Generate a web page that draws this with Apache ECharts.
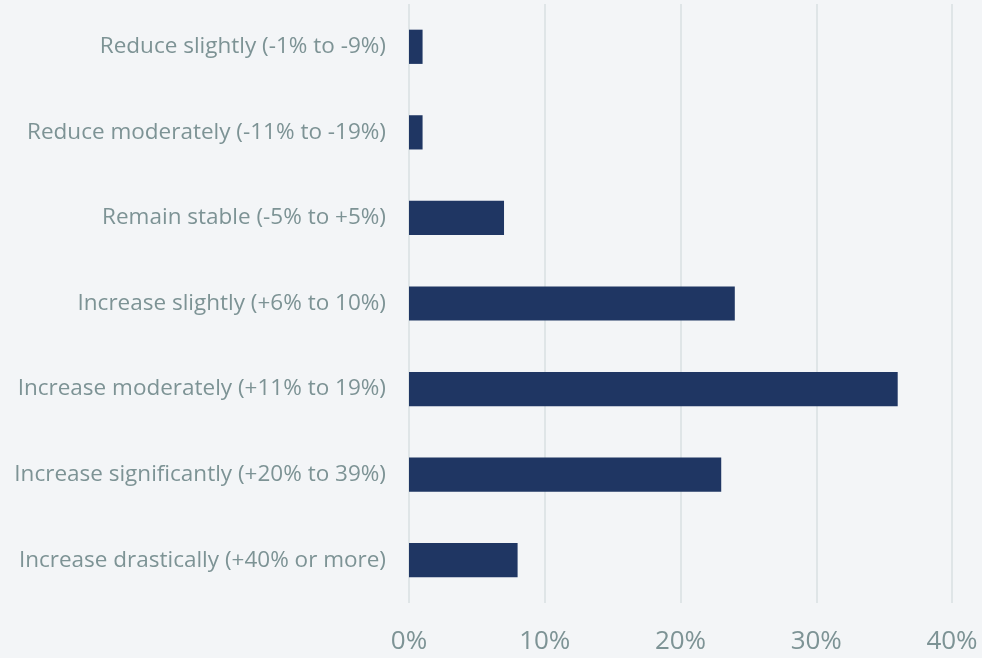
<!DOCTYPE html>
<html>
<head>
<meta charset="utf-8">
<script src="https://cdn.jsdelivr.net/npm/echarts@6/dist/echarts.min.js"></script>
<style>
html,body{margin:0;padding:0;background:#f3f5f7;}
#c{width:982px;height:658px;}
</style>
</head>
<body>
<div id="c"></div>
<script>
const categories = [
  "Reduce slightly (-1% to -9%)",
  "Reduce moderately (-11% to -19%)",
  "Remain stable (-5% to +5%)",
  "Increase slightly (+6% to 10%)",
  "Increase moderately (+11% to 19%)",
  "Increase significantly (+20% to 39%)",
  "Increase drastically (+40% or more)"
];
const values = [1, 1, 7, 24, 36, 23, 8];
const xTicks = [0, 10, 20, 30, 40];

const chart = echarts.init(document.getElementById('c'), null, {renderer: 'canvas'});
chart.setOption({
  backgroundColor: '#f3f5f7',
  animation: false,
  grid: {left: 409, right: 30, top: 4, bottom: 55, containLabel: false},
  xAxis: {
    type: 'value', min: 0, max: 40, interval: 10,
    axisLine: {show: false}, axisTick: {show: false},
    splitLine: {show: true, lineStyle: {color: '#dfe5e7', width: 2}},
    axisLabel: {
      formatter: v => v + '%', color: '#7d9395',
      fontFamily: 'Open Sans', fontSize: 26, margin: 26
    }
  },
  yAxis: {
    type: 'category', data: categories, inverse: true,
    axisLine: {show: false}, axisTick: {show: false},
    axisLabel: {color: '#7d9395', fontFamily: 'Open Sans', fontSize: 22.5, margin: 23,
      padding: [8, 0, 0, 0]}
  },
  series: [{
    type: 'bar', data: values, barWidth: '40%',
    itemStyle: {color: '#1f3663'}
  }]
});
</script>
</body>
</html>
